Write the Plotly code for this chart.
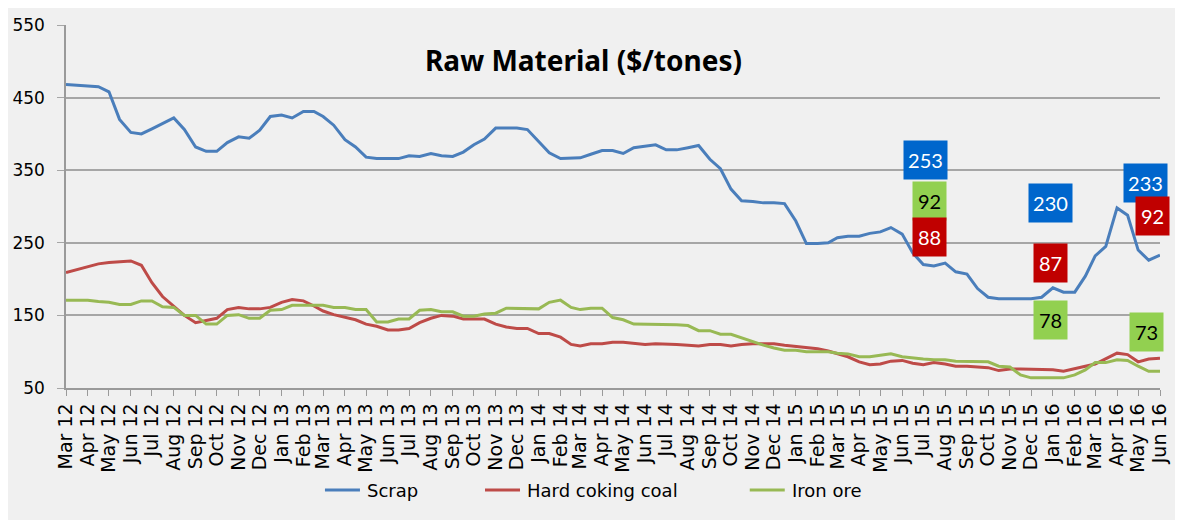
import datetime as dt
import plotly.graph_objects as go

# ---------------- data ----------------
MONTH_NAMES = ["Jan", "Feb", "Mar", "Apr", "May", "Jun",
               "Jul", "Aug", "Sep", "Oct", "Nov", "Dec"]
START_YEAR, START_MONTH, N_MONTHS = 2012, 3, 52   # Mar 12 .. Jun 16


def month_start(i, day=1):
    k = START_MONTH - 1 + i
    return dt.date(START_YEAR + k // 12, k % 12 + 1, day)


month_ticks = [month_start(i) for i in range(N_MONTHS)]
month_labels = [f"{MONTH_NAMES[d.month - 1]} {d.year % 100:02d}" for d in month_ticks]

# observation dates: 1st and 16th of each month
dates = []
for i in range(N_MONTHS):
    dates.append(month_start(i, 1))
    if i < N_MONTHS - 1:
        dates.append(month_start(i, 16))

scrap = [
    468, 467, 465, 465, 458, 420, 402, 400, 407, 414,   # Mar12 - Jul12
    422, 406, 382, 376, 376, 388, 396, 394, 405, 424,   # Aug12 - Dec12
    426, 422, 431, 431, 424, 412, 392, 382, 368, 366,   # Jan13 - May13
    366, 366, 370, 369, 373, 370, 369, 375, 385, 393,   # Jun13 - Oct13
    408, 408, 408, 406, 389, 374, 366, 366, 367, 372,   # Nov13 - Mar14
    377, 377, 373, 381, 383, 385, 378, 378, 381, 384,   # Apr14 - Aug14
    365, 352, 324, 308, 307, 305, 305, 304, 280, 249,   # Sep14 - Jan15
    249, 250, 257, 259, 259, 263, 265, 271, 262, 236,   # Feb15 - Jun15
    220, 218, 222, 210, 207, 187, 175, 173, 173, 173,   # Jul15 - Nov15
    173, 175, 188, 182, 182, 204, 232, 245, 298, 288,   # Dec15 - Apr16
    240, 226, 233,                                      # May16 - Jun16
]

coking_coal = [
    209, 213, 218, 221, 223, 224, 225, 219, 195, 176,
    163, 150, 140, 143, 146, 158, 161, 159, 159, 161,
    168, 172, 170, 163, 156, 151, 147, 144, 138, 135,
    130, 130, 132, 140, 146, 150, 149, 145, 145, 145,
    138, 134, 132, 132, 125, 125, 120, 110, 108, 111,
    111, 113, 113, 112, 110, 111, 110, 110, 109, 108,
    110, 110, 108, 110, 111, 111, 111, 109, 107, 106,
    104, 101, 97, 93, 86, 82, 83, 87, 88, 84,
    82, 85, 83, 80, 80, 79, 78, 74, 76, 76,
    76, 76, 75, 73, 77, 80, 83, 90, 98, 96,
    86, 90, 91,
]

iron_ore = [
    171, 171, 171, 169, 168, 165, 165, 170, 170, 162,
    161, 150, 150, 138, 138, 150, 151, 146, 146, 157,
    158, 164, 164, 164, 164, 161, 161, 158, 158, 141,
    141, 145, 145, 157, 158, 155, 155, 149, 149, 152,
    153, 160, 160, 159, 159, 168, 171, 161, 158, 160,
    160, 147, 144, 138, 138, 137, 137, 137, 136, 129,
    129, 124, 124, 119, 114, 109, 105, 102, 102, 100,
    100, 100, 98, 97, 93, 93, 95, 97, 93, 91,
    90, 89, 89, 87, 87, 87, 86, 80, 79, 68,
    64, 64, 64, 64, 68, 75, 85, 85, 89, 88,
    80, 73, 73,
]

series_names = ["Scrap", "Hard coking coal", "Iron ore"]
series_colors = ["#4A7EBB", "#BE4B48", "#98B954"]

# value boxes: (text, date, value, background, text colour)
box_labels = ["253", "92", "88", "230", "87", "78", "233", "92", "73"]
box_dates = [dt.date(2015, 7, 4), dt.date(2015, 7, 10), dt.date(2015, 7, 10),
             dt.date(2015, 12, 28), dt.date(2015, 12, 28), dt.date(2015, 12, 28),
             dt.date(2016, 5, 11), dt.date(2016, 5, 22), dt.date(2016, 5, 13)]
box_values = [364, 307, 258, 305, 222, 144, 332, 287, 127]
box_bg = ["#0066CC", "#92D050", "#C00000", "#0066CC", "#C00000", "#92D050",
          "#0066CC", "#C00000", "#92D050"]
box_fg = ["white", "black", "white", "white", "white", "black",
          "white", "white", "black"]

assert len(dates) == len(scrap) == len(coking_coal) == len(iron_ore)

# ---------------- figure ----------------
fig = go.Figure()
for name, vals, col in zip(series_names, [scrap, coking_coal, iron_ore], series_colors):
    fig.add_trace(go.Scatter(x=dates, y=vals, name=name, mode="lines",
                             line=dict(color=col, width=3), showlegend=False))

for txt, d, v, bg, fg in zip(box_labels, box_dates, box_values, box_bg, box_fg):
    fig.add_annotation(x=d, y=v, xref="x", yref="y", text=txt, showarrow=False,
                       font=dict(family="Lato", size=20, color=fg),
                       bgcolor=bg, borderpad=0,
                       width=43 if len(txt) == 3 else 33, height=38)

fig.add_annotation(x=0.4726, y=0.9036, xref="paper", yref="paper",
                   xanchor="center", yanchor="middle",
                   text="<b>Raw Material ($/tones)</b>", showarrow=False,
                   font=dict(family="Noto Sans", size=28, color="black"))

# legend (drawn below the axis, spaced like the original)
legend_line_x = [(0.2367, 0.2687), (0.383, 0.415), (0.625, 0.657)]
legend_y = -0.281
for (x0, x1), name, col in zip(legend_line_x, series_names, series_colors):
    fig.add_shape(type="line", xref="paper", yref="paper", x0=x0, x1=x1,
                  y0=legend_y, y1=legend_y, line=dict(color=col, width=3))
    fig.add_annotation(x=x1 + 0.0046, y=legend_y, xref="paper", yref="paper",
                       xanchor="left", yanchor="middle", text=name, showarrow=False,
                       font=dict(family="DejaVu Sans", size=18, color="black"))

fig.update_layout(
    width=1175, height=512,
    margin=dict(l=58, r=23, t=17, b=132, autoexpand=False),
    paper_bgcolor="#F0F0F0", plot_bgcolor="#F0F0F0",
    showlegend=False,
    xaxis=dict(type="date", range=[month_ticks[0], month_ticks[-1]], automargin=False,
               tickmode="array", tickvals=month_ticks, ticktext=month_labels,
               tickangle=-90, tickfont=dict(family="DejaVu Sans", size=19, color="black"),
               showgrid=False, showline=True, linecolor="#9A9A9A", linewidth=1.5,
               ticks="outside", ticklen=6, tickcolor="#9A9A9A", zeroline=False),
    yaxis=dict(range=[50, 550], tickmode="linear", tick0=50, dtick=100, automargin=False,
               tickfont=dict(family="DejaVu Sans", size=17, color="black"),
               ticklabelstandoff=9,
               showgrid=True, gridcolor="#A6A6A6", gridwidth=1.5,
               showline=True, linecolor="#9A9A9A", linewidth=1.5,
               ticks="outside", ticklen=7, tickcolor="#A6A6A6", zeroline=False),
)

fig.write_html("out.html")
